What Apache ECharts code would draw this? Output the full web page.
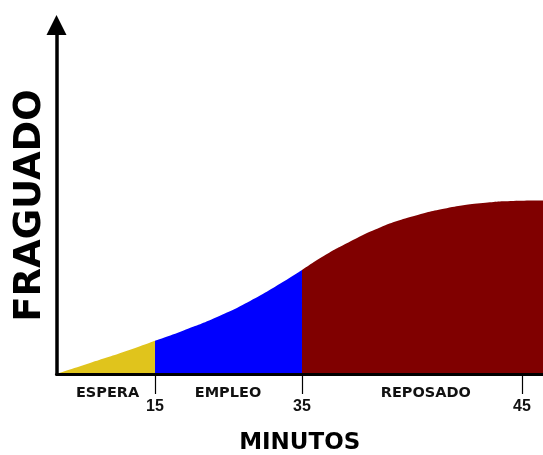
<!DOCTYPE html>
<html>
<head>
<meta charset="utf-8">
<script src="https://cdn.jsdelivr.net/npm/echarts@6/dist/echarts.min.js"></script>
<style>html,body{margin:0;padding:0;background:#fff}#c{width:543px;height:455px}</style>
</head>
<body>
<div id="c"></div>
<script>
// position along the (non-proportional) time axis, 0..100, and the minute it represents
var tickPos = [20.25, 50.46, 95.68];
var tickMinutes = [15, 35, 45];
// phase labels and their centre positions
var phaseNames = ['ESPERA', 'EMPLEO', 'REPOSADO'];
var phaseCenters = [10.5, 35.25, 75.9];
// setting curve (FRAGUADO, % of axis height) per phase
var esperaPos = [0, 6.74, 13.6, 20.25];
var esperaVal = [0, 3.07, 6.2, 9.54];
var empleoPos = [20.25, 26.0, 33.0, 39.8, 46.6, 50.46];
var empleoVal = [9.54, 12.4, 16.3, 20.9, 26.4, 29.8];
var reposoPos = [50.46, 55, 60, 66.5, 73.3, 80.2, 87.05, 93.9, 100];
var reposoVal = [29.8, 33.9, 37.7, 42.0, 45.2, 47.5, 48.9, 49.6, 49.7];
var colors = ['#E0C41C', '#0000FF', '#800000'];

function pairs(xs, ys) { return xs.map(function (x, i) { return [x, ys[i]]; }); }
function mkSeries(name, xs, ys, color) {
  return {
    name: name, type: 'line', data: pairs(xs, ys), smooth: 0.5,
    showSymbol: false, symbol: 'none',
    lineStyle: { width: 0, color: color },
    itemStyle: { color: color },
    areaStyle: { color: color, opacity: 1 },
    z: 2
  };
}

var chart = echarts.init(document.getElementById('c'), null, { renderer: 'canvas' });
chart.setOption({
  animation: false,
  backgroundColor: '#fff',
  grid: { left: 56.5, right: 0, top: 25, bottom: 81, containLabel: false, outerBoundsMode: 'none' },
  xAxis: [{
    type: 'value', min: 0, max: 100, position: 'bottom', z: 5,
    name: 'MINUTOS', nameLocation: 'middle', nameGap: 58,
    nameTextStyle: { fontFamily: 'DejaVu Sans', fontWeight: 'bold', fontSize: 23, color: '#000' },
    axisLine: { show: true, onZero: false, lineStyle: { color: '#000', width: 3 } },
    axisTick: { show: true, length: 20, customValues: tickPos, lineStyle: { color: '#000', width: 1.2 } },
    axisLabel: {
      show: true, customValues: tickPos, margin: 25,
      fontFamily: 'Liberation Sans', fontWeight: 'bold', fontSize: 16, color: '#111',
      formatter: function (v) { var i = tickPos.indexOf(v); return i >= 0 ? String(tickMinutes[i]) : ''; }
    },
    splitLine: { show: false }
  }, {
    type: 'value', min: 0, max: 100, position: 'bottom', offset: 0,
    axisLine: { show: false }, axisTick: { show: false }, splitLine: { show: false },
    axisLabel: {
      show: true, customValues: phaseCenters, margin: 12,
      fontFamily: 'DejaVu Sans', fontWeight: 'bold', fontSize: 14.5, color: '#111',
      formatter: function (v) { var i = phaseCenters.indexOf(v); return i >= 0 ? phaseNames[i] : ''; }
    }
  }],
  yAxis: {
    type: 'value', min: 0, max: 100, z: 5,
    name: 'FRAGUADO', nameLocation: 'middle', nameRotate: 90, nameGap: 8,
    nameTextStyle: { fontFamily: 'DejaVu Sans', fontWeight: 'bold', fontSize: 37, color: '#000', padding: [0, 12, 0, 0] },
    axisLine: { show: true, symbol: ['none', 'triangle'], symbolSize: [20, 20], lineStyle: { color: '#000', width: 3.5 } },
    axisTick: { show: false }, axisLabel: { show: false }, splitLine: { show: false }
  },
  series: [
    mkSeries(phaseNames[0], esperaPos, esperaVal, colors[0]),
    mkSeries(phaseNames[1], empleoPos, empleoVal, colors[1]),
    mkSeries(phaseNames[2], reposoPos, reposoVal, colors[2])
  ]
});
</script>
</body>
</html>
